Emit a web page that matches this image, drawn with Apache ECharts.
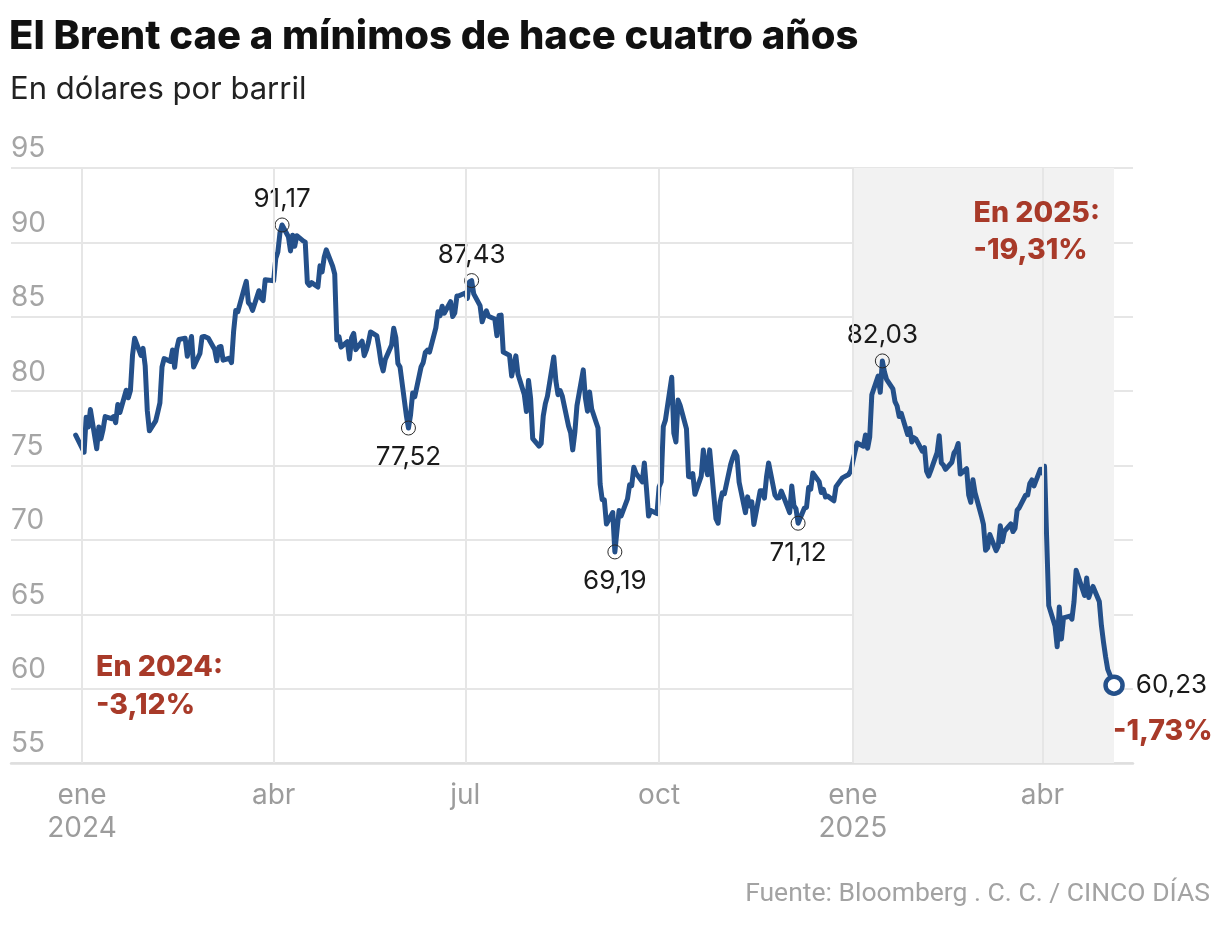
<!DOCTYPE html>
<html><head><meta charset="utf-8">
<script src="https://cdn.jsdelivr.net/npm/echarts@6/dist/echarts.min.js"></script>
<style>html,body{margin:0;padding:0;background:#fff}#c{width:1220px;height:926px}</style>
</head><body><div id="c"></div>
<script>
// ---------- DATA ----------
const tradeDates = [
'2023-12-29',
'2024-01-02','2024-01-03','2024-01-04','2024-01-05','2024-01-08','2024-01-09','2024-01-10','2024-01-11','2024-01-12','2024-01-15','2024-01-16','2024-01-17','2024-01-18','2024-01-19','2024-01-22','2024-01-23','2024-01-24','2024-01-25','2024-01-26','2024-01-29','2024-01-30','2024-01-31',
'2024-02-01','2024-02-02','2024-02-05','2024-02-06','2024-02-07','2024-02-08','2024-02-09','2024-02-12','2024-02-13','2024-02-14','2024-02-15','2024-02-16','2024-02-19','2024-02-20','2024-02-21','2024-02-22','2024-02-23','2024-02-26','2024-02-27','2024-02-28','2024-02-29',
'2024-03-01','2024-03-04','2024-03-05','2024-03-06','2024-03-07','2024-03-08','2024-03-11','2024-03-12','2024-03-13','2024-03-14','2024-03-15','2024-03-18','2024-03-19','2024-03-20','2024-03-21','2024-03-22','2024-03-25','2024-03-26','2024-03-27','2024-03-28',
'2024-04-01','2024-04-02','2024-04-03','2024-04-04','2024-04-05','2024-04-08','2024-04-09','2024-04-10','2024-04-11','2024-04-12','2024-04-15','2024-04-16','2024-04-17','2024-04-18','2024-04-19','2024-04-22','2024-04-23','2024-04-24','2024-04-25','2024-04-26','2024-04-29','2024-04-30',
'2024-05-01','2024-05-02','2024-05-03','2024-05-06','2024-05-07','2024-05-08','2024-05-09','2024-05-10','2024-05-13','2024-05-14','2024-05-15','2024-05-16','2024-05-17','2024-05-20','2024-05-21','2024-05-22','2024-05-23','2024-05-24','2024-05-27','2024-05-28','2024-05-29','2024-05-30','2024-05-31',
'2024-06-03','2024-06-04','2024-06-05','2024-06-06','2024-06-07','2024-06-10','2024-06-11','2024-06-12','2024-06-13','2024-06-14','2024-06-17','2024-06-18','2024-06-19','2024-06-20','2024-06-21','2024-06-24','2024-06-25','2024-06-26','2024-06-27','2024-06-28',
'2024-07-01','2024-07-02','2024-07-03','2024-07-04','2024-07-05','2024-07-08','2024-07-09','2024-07-10','2024-07-11','2024-07-12','2024-07-15','2024-07-16','2024-07-17','2024-07-18','2024-07-19','2024-07-22','2024-07-23','2024-07-24','2024-07-25','2024-07-26','2024-07-29','2024-07-30','2024-07-31',
'2024-08-01','2024-08-02','2024-08-05','2024-08-06','2024-08-07','2024-08-08','2024-08-09','2024-08-12','2024-08-13','2024-08-14','2024-08-15','2024-08-16','2024-08-19','2024-08-20','2024-08-21','2024-08-22','2024-08-23','2024-08-26','2024-08-27','2024-08-28','2024-08-29','2024-08-30',
'2024-09-02','2024-09-03','2024-09-04','2024-09-05','2024-09-06','2024-09-09','2024-09-10','2024-09-11','2024-09-12','2024-09-13','2024-09-16','2024-09-17','2024-09-18','2024-09-19','2024-09-20','2024-09-23','2024-09-24','2024-09-25','2024-09-26','2024-09-27','2024-09-30',
'2024-10-01','2024-10-02','2024-10-03','2024-10-04','2024-10-07','2024-10-08','2024-10-09','2024-10-10','2024-10-11','2024-10-14','2024-10-15','2024-10-16','2024-10-17','2024-10-18','2024-10-21','2024-10-22','2024-10-23','2024-10-24','2024-10-25','2024-10-28','2024-10-29','2024-10-30','2024-10-31',
'2024-11-01','2024-11-04','2024-11-05','2024-11-06','2024-11-07','2024-11-08','2024-11-11','2024-11-12','2024-11-13','2024-11-14','2024-11-15','2024-11-18','2024-11-19','2024-11-20','2024-11-21','2024-11-22','2024-11-25','2024-11-26','2024-11-27','2024-11-28','2024-11-29',
'2024-12-02','2024-12-03','2024-12-04','2024-12-05','2024-12-06','2024-12-09','2024-12-10','2024-12-11','2024-12-12','2024-12-13','2024-12-16','2024-12-17','2024-12-18','2024-12-19','2024-12-20','2024-12-23','2024-12-24','2024-12-27','2024-12-30','2024-12-31',
'2025-01-02','2025-01-03','2025-01-06','2025-01-07','2025-01-08','2025-01-09','2025-01-10','2025-01-13','2025-01-14','2025-01-15','2025-01-16','2025-01-17','2025-01-20','2025-01-21','2025-01-22','2025-01-23','2025-01-24','2025-01-27','2025-01-28','2025-01-29','2025-01-30','2025-01-31',
'2025-02-03','2025-02-04','2025-02-05','2025-02-06','2025-02-07','2025-02-10','2025-02-11','2025-02-12','2025-02-13','2025-02-14','2025-02-17','2025-02-18','2025-02-19','2025-02-20','2025-02-21','2025-02-24','2025-02-25','2025-02-26','2025-02-27','2025-02-28',
'2025-03-03','2025-03-04','2025-03-05','2025-03-06','2025-03-07','2025-03-10','2025-03-11','2025-03-12','2025-03-13','2025-03-14','2025-03-17','2025-03-18','2025-03-19','2025-03-20','2025-03-21','2025-03-24','2025-03-25','2025-03-26','2025-03-27','2025-03-28','2025-03-31',
'2025-04-01','2025-04-02','2025-04-03','2025-04-04','2025-04-07','2025-04-08','2025-04-09','2025-04-10','2025-04-11','2025-04-14','2025-04-15','2025-04-16','2025-04-17','2025-04-21','2025-04-22','2025-04-23','2025-04-24','2025-04-25','2025-04-28','2025-04-29','2025-04-30',
'2025-05-01','2025-05-02','2025-05-05'
];
const brentPrices = [
77.04,
75.89,78.25,77.59,78.76,76.12,77.59,76.80,77.41,78.29,78.15,78.29,77.88,79.10,78.56,80.06,79.55,80.04,82.43,83.55,82.40,82.87,81.71,
78.70,77.33,78.00,78.59,79.21,81.63,82.19,82.00,82.77,81.60,82.86,83.47,83.56,82.34,83.03,83.67,81.62,82.53,83.65,83.68,83.62,
83.55,82.80,82.04,82.96,83.00,82.08,82.21,81.92,84.03,85.42,85.34,86.89,87.38,85.95,85.78,85.43,86.75,86.25,86.09,87.48,
87.42,88.92,89.35,90.65,91.17,90.38,89.42,90.48,89.74,90.45,90.10,90.02,87.29,87.11,87.29,87.00,88.42,88.02,89.01,89.50,88.40,87.86,
83.44,83.67,82.96,83.33,82.16,83.58,83.88,82.79,83.36,82.38,82.75,83.27,83.98,83.71,82.88,81.90,81.36,82.12,83.10,84.22,83.60,81.86,81.62,
78.36,77.52,78.41,79.87,79.62,81.63,81.92,82.60,82.75,82.62,84.25,85.33,85.07,85.71,85.24,86.01,85.01,85.25,86.39,86.41,
86.60,86.24,87.34,87.43,86.54,85.75,84.66,85.08,85.40,85.03,84.85,83.73,85.08,85.11,82.63,82.40,81.01,81.71,82.37,81.13,79.78,78.63,80.72,
79.52,76.81,76.30,76.48,78.33,79.16,79.66,82.30,80.69,79.76,80.04,79.68,77.66,77.20,76.05,77.22,79.02,81.43,79.55,78.65,79.94,78.80,
77.52,73.75,72.70,72.69,71.06,71.84,69.19,70.61,71.97,71.61,72.75,73.70,73.65,74.88,74.49,73.90,75.17,73.46,71.60,71.98,71.77,
73.56,73.90,77.62,78.05,80.93,77.18,76.58,79.40,79.04,77.46,74.25,74.22,74.45,73.06,74.29,76.04,74.96,74.38,76.05,71.42,71.12,72.55,73.16,
73.10,75.08,75.53,75.92,75.63,73.87,71.83,72.89,72.28,72.56,71.04,73.30,73.31,72.81,74.23,75.17,73.01,72.81,72.83,73.28,72.94,
71.83,73.62,72.31,72.09,71.12,72.14,72.19,73.52,73.41,74.49,73.91,73.19,73.39,72.88,72.94,72.63,73.58,74.17,74.39,74.64,
75.93,76.51,76.30,77.05,76.16,76.92,79.76,81.01,79.92,82.03,81.29,80.79,80.15,79.29,79.00,78.29,78.50,77.08,77.49,76.58,76.87,76.76,
75.96,76.20,74.61,74.29,74.66,75.87,77.00,75.18,75.02,74.74,75.22,75.84,76.04,76.48,74.43,74.78,73.02,72.53,74.04,73.18,
71.62,71.04,69.30,69.46,70.36,69.28,69.56,70.95,69.88,70.58,71.07,70.56,70.78,72.00,72.16,73.00,73.02,73.79,74.03,73.63,74.74,
74.49,74.95,70.14,65.58,64.21,62.82,65.48,63.33,64.76,64.88,64.67,65.85,67.96,66.26,67.44,66.12,66.55,66.87,65.86,64.25,63.12,
62.13,61.29,60.23
];
const highlightDates = ['2024-04-05','2024-06-04','2024-07-04','2024-09-10','2024-12-06','2025-01-15'];
const monthTicks = ['2024-01-01','2024-04-01','2024-07-01','2024-10-01','2025-01-01','2025-04-01'];
const monthNames = ['ene','feb','mar','abr','may','jun','jul','ago','sep','oct','nov','dic'];
const yMin = 55, yMax = 95, yStep = 5;
const shadeStart = '2025-01-01';
const titleText = 'El Brent cae a mínimos de hace cuatro años';
const subtitleText = 'En dólares por barril';
const sourceText = 'Fuente: Bloomberg . C. C. / CINCO DÍAS';

// ---------- HELPERS ----------
const DAY = 864e5;
const ts = s => { const [y, m, d] = s.split('-').map(Number); return Date.UTC(y, m - 1, d); };
const fmt = v => v.toFixed(2).replace('.', ',');
const pctFmt = v => (v > 0 ? '+' : '') + v.toFixed(2).replace('.', ',') + '%';
const FONT = 'Inter, Roboto, "Noto Sans", sans-serif';
const FONT2 = 'Roboto, "Noto Sans", sans-serif';
const BLUE = '#24508a', RED = '#a83a29';

const series = tradeDates.map((d, i) => [ts(d), brentPrices[i]]);
const lastIdx = tradeDates.length - 1;
const lastDate = tradeDates[lastIdx];
const lastPrice = brentPrices[lastIdx];
const lastOfYear = y => { let idx = -1; tradeDates.forEach((d, i) => { if (d.startsWith(String(y))) idx = i; }); return brentPrices[idx]; };
const pct2024 = (lastOfYear(2024) / lastOfYear(2023) - 1) * 100;
const pct2025 = (lastPrice / lastOfYear(2024) - 1) * 100;
const pctDay = (lastPrice / brentPrices[lastIdx - 1] - 1) * 100;

const highlightData = highlightDates.map(d => {
  const i = tradeDates.indexOf(d);
  const v = brentPrices[i];
  const nb = (brentPrices[Math.max(0, i - 5)] + brentPrices[Math.min(lastIdx, i + 5)]) / 2;
  const top = v > nb;
  return {
    value: [ts(d), v],
    label: { position: top ? 'top' : 'bottom', distance: top ? 5 : 9 }
  };
});

const chart = echarts.init(document.getElementById('c'), null, { renderer: 'canvas' });
chart.setOption({
  animation: false,
  backgroundColor: '#fff',
  title: [
    { text: titleText, left: 9, top: 17, padding: 0,
      textStyle: { fontFamily: FONT, fontSize: 40, fontWeight: 800, color: '#111' } },
    { text: subtitleText, left: 10, top: 74, padding: 0,
      textStyle: { fontFamily: FONT, fontSize: 31, fontWeight: 'normal', color: '#222' } }
  ],
  grid: { left: 11, right: 87, top: 168, bottom: 163, containLabel: false },
  xAxis: {
    type: 'value',
    min: ts('2024-01-01') - 33.7 * DAY,
    max: ts('2024-01-01') + 499 * DAY,
    axisLine: { show: true, lineStyle: { color: '#dedede', width: 2.5 } },
    axisTick: { show: false },
    splitLine: { show: false },
    axisLabel: {
      customValues: monthTicks.map(ts),
      hideOverlap: false,
      showMinLabel: true, showMaxLabel: true,
      formatter: v => {
        const d = new Date(v);
        const m = d.getUTCMonth();
        return m === 0 ? monthNames[m] + '\n' + d.getUTCFullYear() : monthNames[m];
      },
      color: '#9c9c9c', fontFamily: FONT, fontSize: 28, lineHeight: 33, margin: 16
    }
  },
  yAxis: {
    type: 'value', min: yMin, max: yMax, interval: yStep,
    axisLine: { show: false }, axisTick: { show: false },
    splitLine: { lineStyle: { color: '#e6e6e6', width: 2 } },
    axisLabel: {
      inside: true, margin: 0, verticalAlign: 'bottom', padding: [0, 0, 5, 0],
      showMinLabel: true, showMaxLabel: true,
      color: '#a5a5a5', fontFamily: FONT, fontSize: 28
    }
  },
  series: [
    { type: 'line', data: [], z: -5, silent: true,
      markArea: { silent: true, itemStyle: { color: '#f2f2f2' },
        data: [[{ xAxis: ts(shadeStart) }, { xAxis: ts(lastDate) }]] } },
    { type: 'line', data: [], z: 1, silent: true,
      markLine: { silent: true, symbol: ['none', 'none'], label: { show: false },
        lineStyle: { color: '#e6e6e6', width: 2, type: 'solid' },
        data: monthTicks.map(d => ({ xAxis: ts(d) })) } },
    { type: 'line', data: series, showSymbol: false, symbol: 'none', z: 3,
      lineStyle: { color: BLUE, width: 5, join: 'round', cap: 'round' } },
    { type: 'scatter', data: highlightData, symbol: 'circle', symbolSize: 14, z: 4,
      itemStyle: { color: 'rgba(0,0,0,0)', borderColor: '#2a2a2a', borderWidth: 1, opacity: 1 },
      label: { show: true, formatter: p => fmt(p.value[1]), color: '#1a1a1a',
        fontFamily: FONT, fontSize: 26 } },
    { type: 'scatter', data: [[ts(lastDate), lastPrice]], symbol: 'circle', symbolSize: 17, z: 5,
      itemStyle: { color: '#fff', borderColor: BLUE, borderWidth: 4.5, opacity: 1 },
      label: { show: true, position: 'right', distance: 11, formatter: p => fmt(p.value[1]),
        color: '#1a1a1a', fontFamily: FONT, fontSize: 26 } }
  ],
  graphic: [
    { type: 'text', left: 96, top: 648, z: 10,
      style: { text: 'En 2024:\n' + pctFmt(pct2024), fill: RED, font: '800 28.5px ' + FONT, lineHeight: 38 } },
    { type: 'text', right: 120, top: 195, z: 10,
      style: { text: 'En 2025:\n' + pctFmt(pct2025), fill: RED, font: '800 28.5px ' + FONT, lineHeight: 37, align: 'right' } },
    { type: 'text', left: 1113, top: 717, z: 10,
      style: { text: pctFmt(pctDay), fill: RED, font: '800 28.5px ' + FONT } },
    { type: 'text', right: 10, top: 881, z: 10,
      style: { text: sourceText, fill: '#a3a3a3', font: '26.5px ' + FONT2 } }
  ]
});
</script>
</body></html>
